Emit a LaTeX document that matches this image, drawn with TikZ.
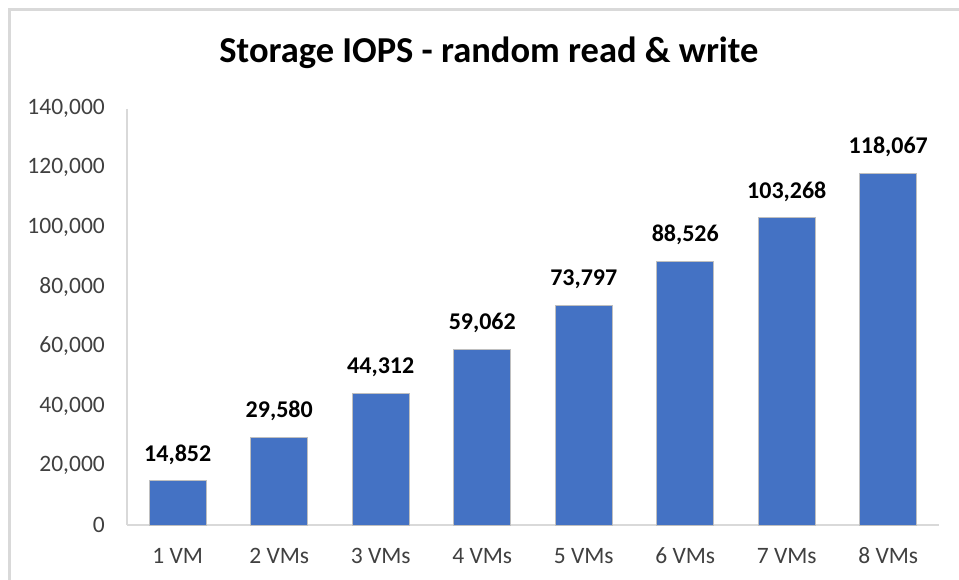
\documentclass[tikz,border=0pt]{standalone}
\usepackage{fontspec}
\setmainfont{Carlito}
\usepackage{tikz}

\definecolor{barblue}{HTML}{4472C4}
\definecolor{axisgray}{HTML}{D9D9D9}
\definecolor{ticktext}{HTML}{404040}

\begin{document}
\begin{tikzpicture}[x=1pt, y=-1pt,
  bar/.style={fill=barblue, draw=black!25, line width=0.8pt},
  tick/.style={anchor=east, inner sep=0pt, text=ticktext, font=\fontsize{23.5}{27}\selectfont},
  cat/.style={inner sep=0pt, text=ticktext, font=\fontsize{23.5}{27}\selectfont},
  val/.style={inner sep=0pt, font=\bfseries\fontsize{24}{28}\selectfont}]
\useasboundingbox (0,0) rectangle (959,580);
\fill[white] (0,0) rectangle (959,580);

% chart frame
\draw[axisgray, line width=2.5pt] (9.5,580) -- (9.5,9.5) -- (959,9.5);

\node[anchor=base, inner sep=0pt, font=\bfseries\fontsize{36.5}{42}\selectfont] (title) at (489,62.5) {Storage IOPS - random read \& write};

% axes
\draw[axisgray, line width=1.2pt] (127,109) -- (127,525);
\draw[axisgray, line width=1.2pt] (127,525) -- (939,525);

\node[tick] (t0) at (105,525) {0};
\node[tick] (t1) at (105,465.4) {20,000};
\node[tick] (t2) at (105,405.9) {40,000};
\node[tick] (t3) at (105,346.3) {60,000};
\node[tick] (t4) at (105,286.7) {80,000};
\node[tick] (t5) at (105,227.1) {100,000};
\node[tick] (t6) at (105,167.6) {120,000};
\node[tick] (t7) at (105,108) {140,000};

% bars
\draw[bar] (149.25,525) rectangle (206.25,480.8);
\draw[bar] (250.75,525) rectangle (307.75,436.9);
\draw[bar] (352.25,525) rectangle (409.25,393.0);
\draw[bar] (453.75,525) rectangle (510.75,349.1);
\draw[bar] (555.25,525) rectangle (612.25,305.2);
\draw[bar] (656.75,525) rectangle (713.75,261.3);
\draw[bar] (758.25,525) rectangle (815.25,217.4);
\draw[bar] (859.75,525) rectangle (916.75,173.3);

\node[val] (v1) at (177.75,454.8) {14,852};
\node[val] (v2) at (279.25,410.9) {29,580};
\node[val] (v3) at (380.75,367.0) {44,312};
\node[val] (v4) at (482.25,323.1) {59,062};
\node[val] (v5) at (583.75,279.2) {73,797};
\node[val] (v6) at (685.25,235.3) {88,526};
\node[val] (v7) at (786.75,191.4) {103,268};
\node[val] (v8) at (888.25,147.3) {118,067};

\node[cat] (c1) at (177.75,556) {1 VM};
\node[cat] (c2) at (279.25,556) {2 VMs};
\node[cat] (c3) at (380.75,556) {3 VMs};
\node[cat] (c4) at (482.25,556) {4 VMs};
\node[cat] (c5) at (583.75,556) {5 VMs};
\node[cat] (c6) at (685.25,556) {6 VMs};
\node[cat] (c7) at (786.75,556) {7 VMs};
\node[cat] (c8) at (888.25,556) {8 VMs};

\end{tikzpicture}
\end{document}
